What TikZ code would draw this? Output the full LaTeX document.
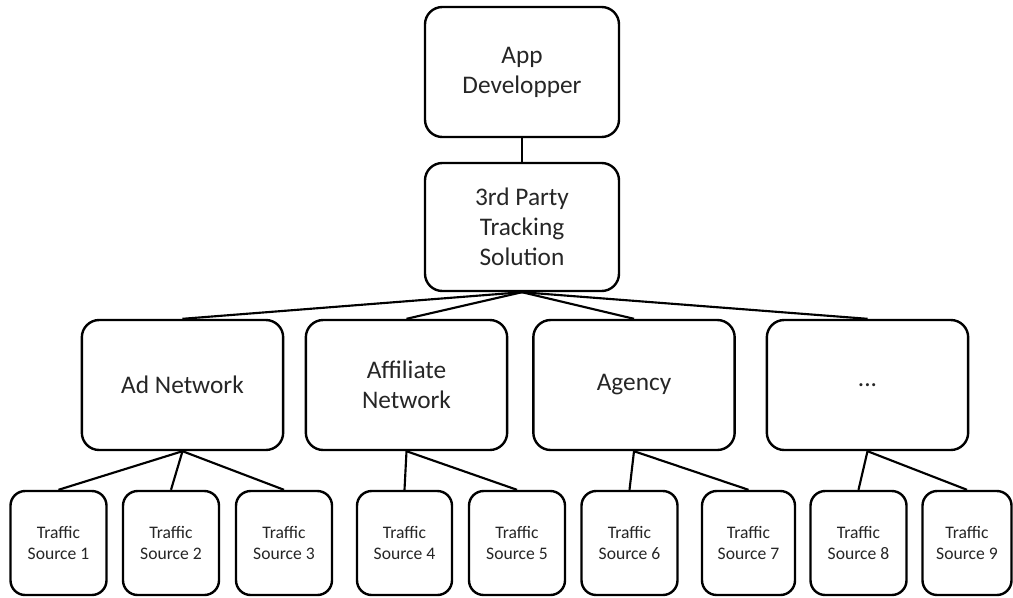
\documentclass[tikz,border=0pt]{standalone}
\usepackage{fontspec}
\setmainfont{Carlito}
\begin{document}
\begin{tikzpicture}[x=0.75pt,y=-0.75pt,
  box/.style={draw=black,line width=1.8pt,rounded corners=13pt,fill=white,
    inner sep=0pt,align=center,text=black!85,
    font=\fontsize{19pt}{22.5pt}\selectfont,
    minimum width=151pt,minimum height=97.5pt},
  tsbox/.style={draw=black,line width=1.8pt,rounded corners=11pt,fill=white,
    inner sep=0pt,align=center,text=black!85,
    font=\fontsize{13.2pt}{15.75pt}\selectfont,
    minimum width=72pt,minimum height=78pt},
  link/.style={draw=black,line width=1.6pt}]
\useasboundingbox (0,0) rectangle (1013,597);

% top of the hierarchy
\node[box,minimum width=145.5pt] (dev) at (522,72) {App\\Developper};
\node[box,minimum width=145.5pt,minimum height=96pt] (tps) at (522,227) {3rd Party\\Tracking\\Solution};

% intermediaries
\node[box] (an)   at (182.5,385) {Ad Network};
\node[box] (af)   at (406.5,385) {Affiliate\\Network};
\node[box] (ag)   at (634,385)   {Agency};
\node[box] (etc)  at (867.5,385) {...};

% traffic sources
\node[tsbox] (ts1) at (58.5,543)  {Traffic\\Source 1};
\node[tsbox] (ts2) at (171,543)   {Traffic\\Source 2};
\node[tsbox] (ts3) at (284,543)   {Traffic\\Source 3};
\node[tsbox,minimum width=71.25pt] (ts4) at (404.5,543) {Traffic\\Source 4};
\node[tsbox] (ts5) at (517,543)   {Traffic\\Source 5};
\node[tsbox] (ts6) at (629.5,543) {Traffic\\Source 6};
\node[tsbox,minimum width=69.75pt] (ts7) at (748.5,543) {Traffic\\Source 7};
\node[tsbox] (ts8) at (858.5,543) {Traffic\\Source 8};
\node[tsbox,minimum width=66.75pt] (ts9) at (967,543) {Traffic\\Source 9};

% connectors
\draw[link] (dev.south) -- (tps.north);
\foreach \c in {an,af,ag,etc} \draw[link] (tps.south) -- (\c.north);
\foreach \c in {ts1,ts2,ts3} \draw[link] (an.south) -- (\c.north);
\foreach \c in {ts4,ts5} \draw[link] (af.south) -- (\c.north);
\foreach \c in {ts6,ts7} \draw[link] (ag.south) -- (\c.north);
\foreach \c in {ts8,ts9} \draw[link] (etc.south) -- (\c.north);
\end{tikzpicture}
\end{document}
